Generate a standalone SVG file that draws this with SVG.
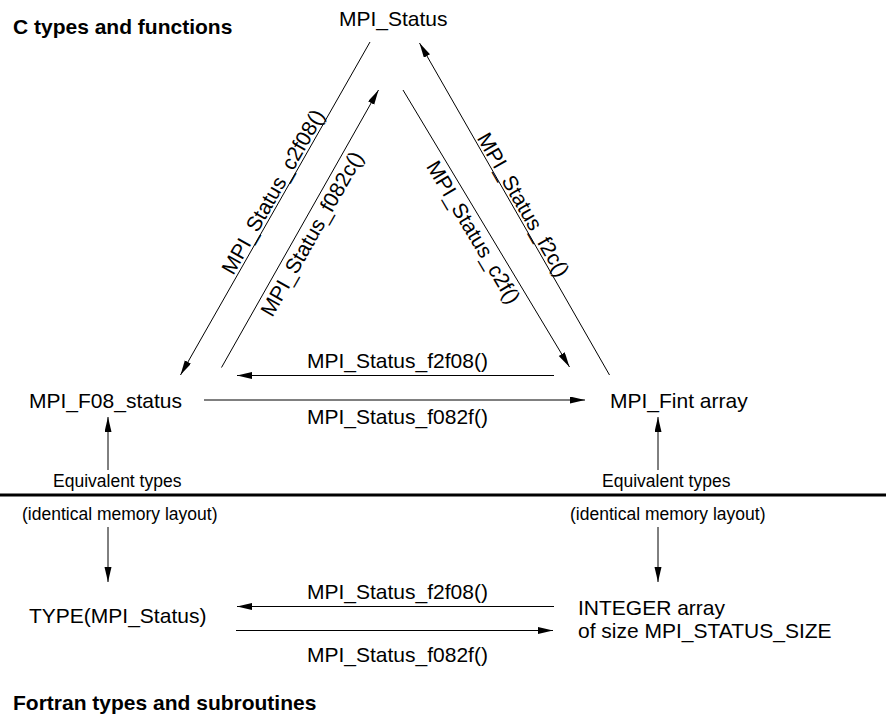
<svg xmlns="http://www.w3.org/2000/svg" width="886" height="715" viewBox="0 0 886 715">
<style>
text{font-family:"Liberation Sans",Arial,Helvetica,sans-serif;fill:#000}
.n{font-size:21px}
.t{font-size:21px;font-weight:bold}
.s{font-size:17.5px}
.l{font-size:21px}
.c{stroke:#000;stroke-width:1;fill:none}
.a{marker-end:url(#ah)}
</style>
<defs>
<marker id="ah" markerUnits="userSpaceOnUse" markerWidth="16" markerHeight="8" refX="15" refY="3.5" orient="auto">
<path d="M0,0 L15,3.5 L0,7 z" fill="#000"/>
</marker>
</defs>
<rect width="886" height="715" fill="#fff"/>
<g id="titles">
<text class="t" x="13" y="33.5">C types and functions</text>
<text class="t" x="13" y="710">Fortran types and subroutines</text>
<line x1="0" y1="495" x2="886" y2="495" stroke="#000" stroke-width="3"/>
</g>
<g id="node-mpi-status"><text class="n" x="339" y="26">MPI_Status</text></g>
<g id="node-mpi-f08-status"><text class="n" x="29" y="408">MPI_F08_status</text></g>
<g id="node-mpi-fint-array"><text class="n" x="610" y="408">MPI_Fint array</text></g>
<g id="node-type-mpi-status"><text class="n" x="29" y="623">TYPE(MPI_Status)</text></g>
<g id="node-integer-array">
<text class="n" x="578" y="615">INTEGER array</text>
<text class="n" x="578" y="638">of size MPI_STATUS_SIZE</text>
</g>
<g id="connectors">
<line class="c a" x1="370" y1="42" x2="180.5" y2="375"/>
<text class="l" text-anchor="middle" transform="translate(281.9,196.8) rotate(-60.3)" y="-3">MPI_Status_c2f08()</text>
<line class="c a" x1="221.5" y1="367.5" x2="378.5" y2="90"/>
<text class="l" text-anchor="middle" transform="translate(300.8,227.4) rotate(-60.4)" y="20">MPI_Status_f082c()</text>
<line class="c a" x1="403" y1="90" x2="569.5" y2="367"/>
<text class="l" text-anchor="middle" transform="translate(484.4,225.7) rotate(59.2)" y="20">MPI_Status_c2f()</text>
<line class="c a" x1="609.5" y1="375" x2="419.5" y2="43"/>
<text class="l" text-anchor="middle" transform="translate(514.5,209.8) rotate(60)" y="-3">MPI_Status_f2c()</text>
<line class="c a" x1="554" y1="375.5" x2="237" y2="375.5"/>
<text class="l" x="307" y="368">MPI_Status_f2f08()</text>
<line class="c a" x1="204" y1="400" x2="585" y2="400"/>
<text class="l" x="307" y="424">MPI_Status_f082f()</text>
<line class="c a" x1="554" y1="606.5" x2="237" y2="606.5"/>
<text class="l" x="307" y="599">MPI_Status_f2f08()</text>
<line class="c a" x1="236" y1="630.5" x2="553" y2="630.5"/>
<text class="l" x="307" y="662">MPI_Status_f082f()</text>
<line class="c a" x1="108" y1="470" x2="108" y2="417"/>
<line class="c a" x1="108" y1="527" x2="108" y2="582"/>
<text class="s" x="53" y="487">Equivalent types</text>
<text class="s" x="22" y="520">(identical memory layout)</text>
<line class="c a" x1="658" y1="470" x2="658" y2="417"/>
<line class="c a" x1="658" y1="527" x2="658" y2="582"/>
<text class="s" x="602" y="487">Equivalent types</text>
<text class="s" x="570" y="520">(identical memory layout)</text>
</g>
</svg>
